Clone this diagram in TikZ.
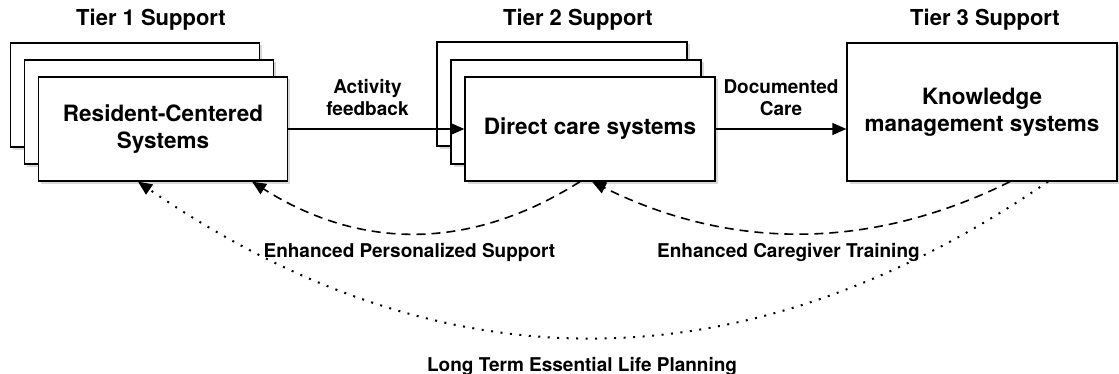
\documentclass[tikz,border=0pt]{standalone}
\usepackage{fontspec}
\setmainfont{TeX Gyre Heros}
\usetikzlibrary{arrows.meta,shadows}

\tikzset{
  sysbox/.style={draw, fill=white, line width=1.3pt, align=center,
    minimum width=249pt, minimum height=104pt, inner sep=0pt,
    font=\fontsize{22.5}{27}\selectfont\bfseries,
    drop shadow={shadow xshift=2.5pt, shadow yshift=-2.5pt, opacity=0.3}},
  tierlabel/.style={anchor=base, font=\fontsize{22}{25}\selectfont\bfseries},
  flowlabel/.style={align=center, font=\fontsize{19}{22}\selectfont\bfseries},
  flow/.style={line width=1.3pt, -{Triangle[length=14pt,width=12pt]}},
  feedback/.style={flow, line width=1.6pt, dash pattern=on 9pt off 6pt},
  planning/.style={flow, line width=2pt, dash pattern=on 2pt off 7.5pt},
}

\begin{document}
\begin{tikzpicture}[x=1pt,y=1pt]
  \useasboundingbox (0,0) rectangle (1119,373);

  \node[tierlabel] (tier1) at (151,347) {Tier 1 Support};
  \node[tierlabel] (tier2) at (578,347) {Tier 2 Support};
  \node[tierlabel] (tier3) at (985,347) {Tier 3 Support};

  % stacked boxes, back to front
  \node[sysbox] (res3) at (135,278) {};
  \node[sysbox] (res2) at (149,261) {};
  \node[sysbox] (res1) at (163,244) {Resident-Centered\\Systems};

  \node[sysbox, minimum width=250pt] (dir3) at (562,279) {};
  \node[sysbox, minimum width=250pt] (dir2) at (576,261) {};
  \node[sysbox, minimum width=250pt] (dir1) at (590,244) {Direct care systems};

  \node[sysbox, minimum width=270pt, minimum height=138pt] (know) at (982,261) {Knowledge\\management systems};

  \draw[flow] (res1) -- node[flowlabel, above=9pt, pos=0.45] {Activity\\feedback} (dir1);
  \draw[flow] (dir1.east) -- node[flowlabel, above=9pt] {Documented\\Care} (dir1.east -| know.west);

  \draw[feedback] ([xshift=-10pt]dir1.south) .. controls +(-109,-69) and +(109,-69) ..
    node[flowlabel, below=6pt, pos=0.52] {Enhanced Personalized Support} ([xshift=89pt]res1.south);
  \draw[feedback] ([xshift=28pt]know.south) .. controls +(-139,-69) and +(139,-69) ..
    node[flowlabel, below=6pt, pos=0.53] {Enhanced Caregiver Training} ([xshift=2pt]dir1.south);
  \draw[planning] ([xshift=66pt]know.south) .. controls +(-303,-208) and +(303,-208) ..
    node[flowlabel, below=15pt, pos=0.512] {Long Term Essential Life Planning} ([xshift=-25pt]res1.south);
\end{tikzpicture}
\end{document}
